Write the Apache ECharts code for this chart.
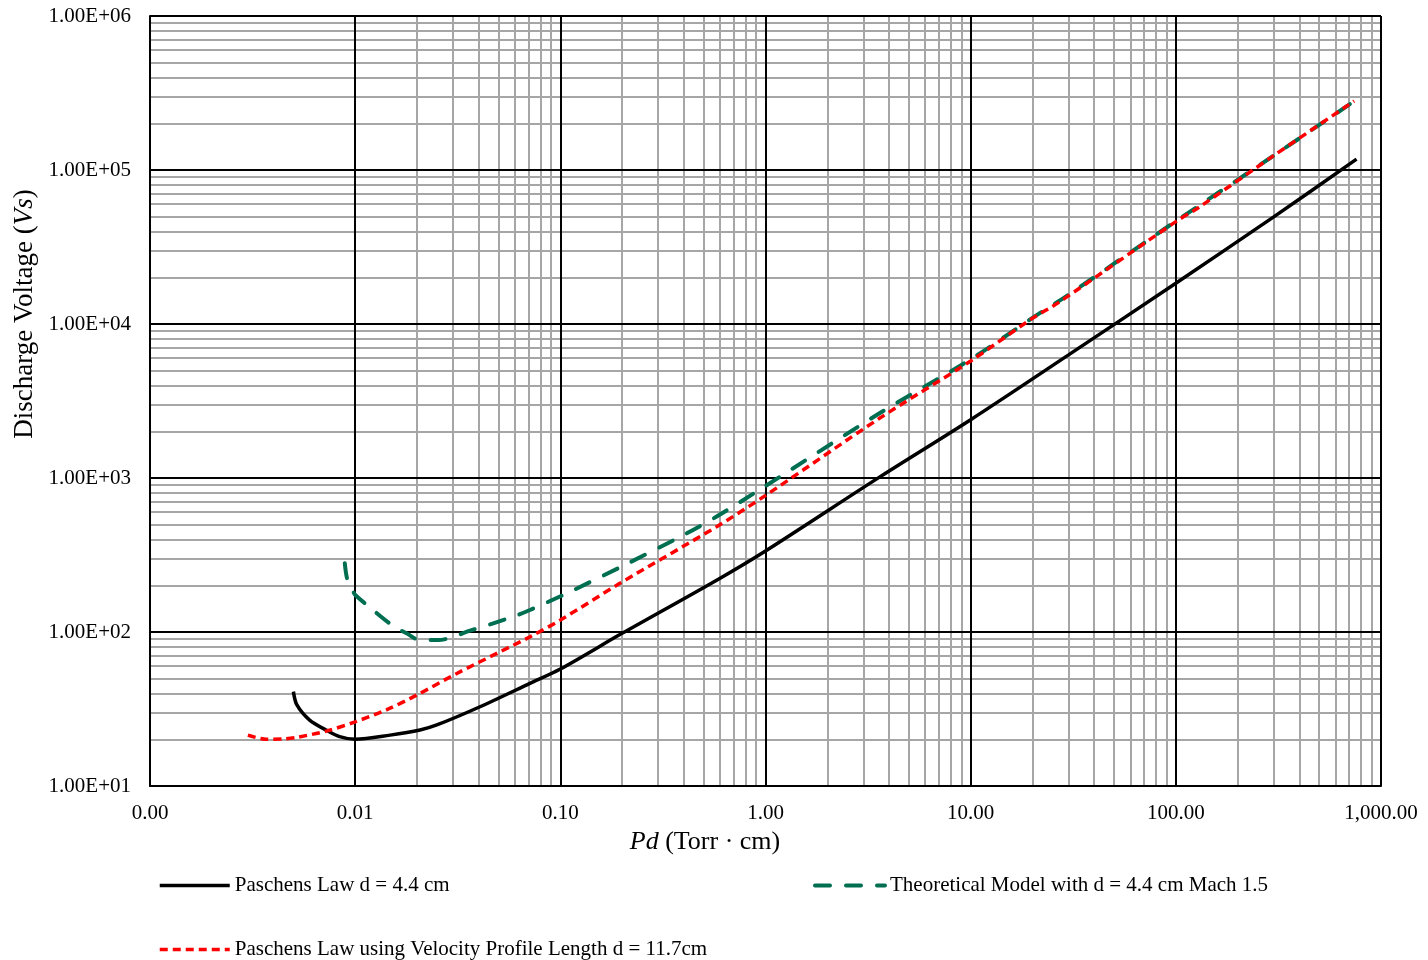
<!DOCTYPE html>
<html><head><meta charset="utf-8">
<script src="https://cdn.jsdelivr.net/npm/echarts@6/dist/echarts.min.js"></script>
<style>html,body{margin:0;padding:0;background:#fff}#c{width:1428px;height:960px}</style>
</head><body><div id="c"></div>
<script>
// ---- data ----
const seriesNames = [
  'Paschens Law d = 4.4 cm',
  'Theoretical Model with d = 4.4 cm Mach 1.5',
  'Paschens Law using Velocity Profile Length d = 11.7cm'
];
const blackX = [0.005,0.0052,0.006,0.0073,0.0084,0.01,0.0148,0.0207,0.025,0.0406,0.0711,0.1,0.2,0.578,1,3.61,10,30,100,300,760];
const blackY = [41,33.6,26.8,22.9,20.9,20.1,21.4,23.1,24.9,32.7,46.4,57.5,98,217,336,1017,2390,6300,18400,49600,117600];
const greenX = [0.0089,0.00915,0.0097,0.01,0.0114,0.0151,0.0178,0.0207,0.0254,0.0363,0.059,0.0711,0.1034,0.1954,0.413,0.578,0.958,3.61,10,20,30,100,300,745];
const greenY = [280,220,188,174,150,111,98,88.6,88.6,102,125.8,139,174,263,437,562,856,2640,5900,10950,15500,46500,124000,281000];
const redX = [0.003,0.0037,0.0045,0.0052,0.0073,0.01,0.0142,0.02,0.0313,0.049,0.0711,0.1,0.195,0.578,1,3.61,10,19.45,27.2,100,131,300,740];
const redY = [21.4,20.1,20.2,20.7,22.8,26.1,31.2,39,53.8,72.6,93,119.5,207,483,770,2450,5750,10620,13960,46200,57800,124000,280500];
// minor grid values (log sub-divisions 2..9 of each decade)
const xMinor = [];
for (let d = -3; d <= 2; d++) for (let k = 2; k <= 9; k++) xMinor.push(k * Math.pow(10, d));
const yMinor = [];
for (let d = 1; d <= 5; d++) for (let k = 2; k <= 9; k++) yMinor.push(k * Math.pow(10, d));

const FONT = '"Liberation Serif","Times New Roman",serif';
const pairs = (xs, ys) => xs.map((x, i) => [x, ys[i]]);

const chart = echarts.init(document.getElementById('c'), null, {renderer: 'canvas'});
const legendBase = {
  padding: 0, itemWidth: 70, itemHeight: 14, itemGap: 0,
  textStyle: {fontFamily: FONT, fontSize: 21, color: '#000'},
  itemStyle: {color: 'transparent', borderColor: 'transparent', borderWidth: 0, opacity: 0},
  lineStyle: {width: 'inherit', type: 'inherit', cap: 'inherit'}
};
const option = {
  animation: false,
  backgroundColor: '#fff',
  grid: {left: 150, right: 47, top: 16, bottom: 174},
  xAxis: {
    type: 'log', logBase: 10, min: 0.001, max: 1000,
    axisLine: {show: true, lineStyle: {color: '#000', width: 2}},
    axisTick: {show: false},
    axisLabel: {margin: 17, color: '#000', fontFamily: FONT, fontSize: 21,
      formatter: v => Number(v).toLocaleString('en-US', {minimumFractionDigits: 2, maximumFractionDigits: 2})},
    splitLine: {show: true, lineStyle: {color: '#000', width: 2}}
  },
  yAxis: {
    type: 'log', logBase: 10, min: 10, max: 1e6,
    axisLine: {show: true, lineStyle: {color: '#000', width: 2}},
    axisTick: {show: false},
    axisLabel: {margin: 19, color: '#000', fontFamily: FONT, fontSize: 21,
      formatter: v => {
        const e = Math.round(Math.log10(v));
        return (v / Math.pow(10, e)).toFixed(2) + 'E' + (e < 0 ? '-' : '+') + String(Math.abs(e)).padStart(2, '0');
      }},
    splitLine: {show: true, lineStyle: {color: '#000', width: 2}}
  },
  legend: [
    Object.assign({data: [seriesNames[0]], left: 158, top: 875}, legendBase),
    Object.assign({data: [seriesNames[1]], left: 813, top: 875}, legendBase),
    Object.assign({data: [seriesNames[2]], left: 158, top: 939}, legendBase)
  ],
  graphic: [
    {type: 'text', x: 705, y: 842, style: {
      text: '{i|Pd} (Torr · cm)', fontFamily: FONT, fontSize: 26, fill: '#000', align: 'center', verticalAlign: 'middle',
      rich: {i: {fontStyle: 'italic', fontFamily: FONT, fontSize: 26, fill: '#000'}}}},
    {type: 'text', x: 25, y: 314, rotation: Math.PI / 2, style: {
      text: 'Discharge Voltage ({i|Vs})', fontFamily: FONT, fontSize: 27, fill: '#000', align: 'center', verticalAlign: 'middle',
      rich: {i: {fontStyle: 'italic', fontFamily: FONT, fontSize: 27, fill: '#000'}}}}
  ],
  series: [
    {type: 'line', data: [], silent: true,
      markLine: {silent: true, symbol: 'none', z: -1, animation: false, label: {show: false},
        lineStyle: {color: '#a6a6a6', width: 2, type: 'solid'},
        emphasis: {disabled: true},
        data: xMinor.map(v => ({xAxis: v})).concat(yMinor.map(v => ({yAxis: v})))}},
    {name: seriesNames[0], type: 'line', data: pairs(blackX, blackY), smooth: 0.3, symbol: 'none', z: 3,
      lineStyle: {color: '#000', width: 3.5}, itemStyle: {color: '#000'}},
    {name: seriesNames[1], type: 'line', data: pairs(greenX, greenY), smooth: 0.3, symbol: 'none', z: 4,
      lineStyle: {color: '#006f51', width: 4, type: [15, 16], cap: 'round'}, itemStyle: {color: '#006f51'}},
    {name: seriesNames[2], type: 'line', data: pairs(redX, redY), smooth: 0.3, symbol: 'none', z: 5,
      lineStyle: {color: '#ff0000', width: 3.5, type: [8, 5]}, itemStyle: {color: '#ff0000'}}
  ]
};
chart.setOption(option);
</script></body></html>
